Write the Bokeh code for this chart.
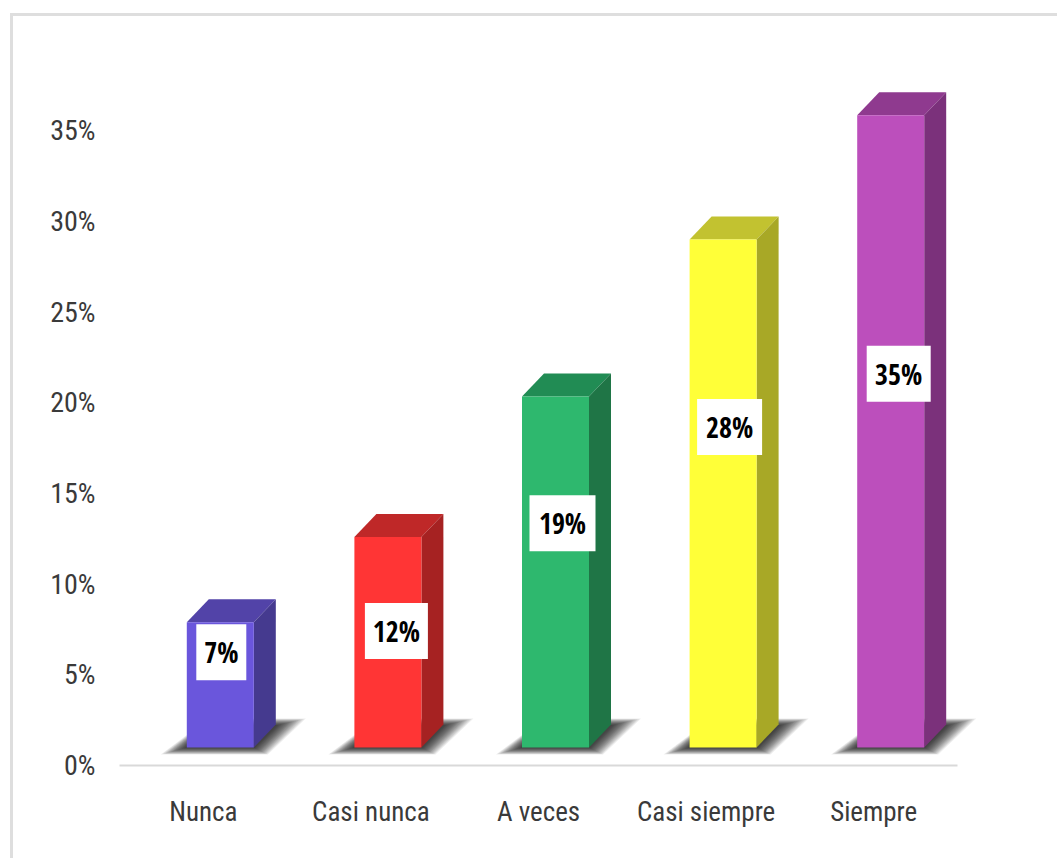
from bokeh.core.properties import value
from bokeh.embed import file_html
from bokeh.models import ColumnDataSource, FixedTicker, Range1d
from bokeh.plotting import figure
from bokeh.resources import INLINE

categories = ["Nunca", "Casi nunca", "A veces", "Casi siempre", "Siempre"]
heights = [6.9, 11.6, 19.35, 28.0, 34.85]
labels = ["7%", "12%", "19%", "28%", "35%"]
y_ticks = [0, 5, 10, 15, 20, 25, 30, 35]

front_colors = ["#6A56DC", "#FF3535", "#2EB86E", "#FFFF38", "#BC4FBC"]
side_colors = ["#453A8F", "#A62222", "#1F7546", "#A8A826", "#7B317B"]
top_colors = ["#5243A8", "#BF2828", "#218C54", "#C2C230", "#8F3A8F"]

# layout of the data labels
label_levels = [6.25, 7.42, 13.36, 18.66, 21.6]
label_shift = [18, 25.5, 24, 23.5, 25]
box_w = [50, 63, 66, 65, 64]

FONT = "Roboto Condensed"
LABEL_FONT = "Open Sans Condensed"
TEXT_COLOR = "#3A3A3A"
PX_X = 167.6   # pixels per category
PX_Y = 18.14   # pixels per percent
W = 1047
H = 845
AXIS_W = 838
FRAME_W = 880
FRAME_H = 749
LEFT = 106

p = figure(
    width=W, height=H, output_backend="svg", toolbar_location=None,
    x_range=Range1d(0, FRAME_W / PX_X), y_range=Range1d(0, FRAME_H / PX_Y),
    min_border_left=LEFT, min_border_right=W - LEFT - FRAME_W,
    min_border_top=0, min_border_bottom=H - FRAME_H,
    background_fill_color="white", border_fill_color="white",
    margin=(13, 0, 0, 10),
    styles={"border-left": "3px solid #DEDEDE", "border-top": "3px solid #DEDEDE"},
)
p.outline_line_color = None
p.grid.visible = False

# axes
p.yaxis.ticker = FixedTicker(ticks=y_ticks)
p.yaxis.major_label_overrides = {t: f"{t}%" for t in y_ticks}
p.yaxis.axis_line_color = None
p.yaxis.major_tick_line_color = None
p.yaxis.minor_tick_line_color = None
p.yaxis.major_label_standoff = 18
p.yaxis.major_label_text_font = FONT
p.yaxis.major_label_text_font_size = "28px"
p.yaxis.major_label_text_color = TEXT_COLOR

tick_x = [i + 0.5 for i in range(len(categories))]
p.xaxis.ticker = FixedTicker(ticks=tick_x)
p.xaxis.major_label_overrides = dict(zip(tick_x, categories))
p.xaxis.bounds = (0, AXIS_W / PX_X)
p.xaxis.axis_line_color = "#D9D9D9"
p.xaxis.axis_line_width = 2
p.xaxis.major_tick_line_color = None
p.xaxis.minor_tick_line_color = None
p.xaxis.major_label_standoff = 24
p.xaxis.major_label_text_font = FONT
p.xaxis.major_label_text_font_size = "27px"
p.xaxis.major_label_text_color = TEXT_COLOR

base = 18 / PX_Y          # floor of the 3D bars, above the axis
fw = 67 / PX_X            # front face width
dx = 22 / PX_X            # depth, x
dy = 23 / PX_Y            # depth, y
off = 17 / PX_X           # front face centre is shifted right of the tick

# shadows: many faint nested parallelograms imitate the blur
LAYERS = 16
for i in range(len(categories)):
    x0 = tick_x[i] + off - fw / 2
    x1 = x0 + fw
    for k in range(LAYERS):
        g = 1 - k / LAYERS
        p.patch(
            [x0 - 26 * g / PX_X, x1 + 14 * g / PX_X, x1 + dx + 30 * g / PX_X, x0 + dx],
            [base - 7 * g / PX_Y, base - 7 * g / PX_Y,
             base + (22 + 7 * g) / PX_Y, base + (22 + 7 * g) / PX_Y],
            fill_color="#202020", fill_alpha=0.08 + 0.05 * k / LAYERS, line_color=None,
        )

# bars
for i in range(len(categories)):
    x0 = tick_x[i] + off - fw / 2
    x1 = x0 + fw
    top = base + heights[i]
    p.patch([x0, x1, x1 + dx, x0 + dx], [top, top, top + dy, top + dy],
            fill_color=top_colors[i], line_color=None)
    p.patch([x1, x1 + dx, x1 + dx, x1], [base, base + dy, top + dy, top],
            fill_color=side_colors[i], line_color=None)
    p.patch([x0, x1, x1, x0], [base, base, top, top],
            fill_color=front_colors[i], line_color=None)

# data labels on white boxes
src = ColumnDataSource(dict(
    x=[tick_x[i] + label_shift[i] / PX_X for i in range(len(categories))],
    y=label_levels, w=box_w, t=labels,
))
p.rect(x="x", y="y", width="w", height=56, width_units="screen", height_units="screen",
       source=src, fill_color="white", line_color=None)
p.text(x="x", y="y", text="t", source=src, text_align="center", text_baseline="middle",
       text_font=value(LABEL_FONT), text_font_size="28px", text_color="black")

open("out.html", "w").write(file_html(p, INLINE))
